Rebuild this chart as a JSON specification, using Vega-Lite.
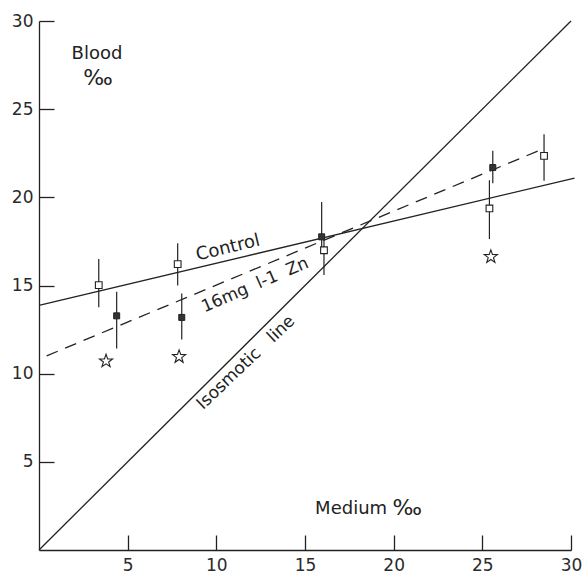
{
  "$schema": "https://vega.github.io/schema/vega-lite/v6.json",
  "width": 532,
  "height": 529,
  "autosize": {"type": "none"},
  "padding": {"left": 39, "top": 21, "right": 13, "bottom": 24},
  "background": "white",
  "config": {"view": {"stroke": null}, "font": "DejaVu Sans"},
  "datasets": {
    "lines": [
      {"line": "iso", "x": 0, "y": 0},
      {"line": "iso", "x": 30, "y": 30},
      {"line": "control", "x": 0.06, "y": 13.89},
      {"line": "control", "x": 30.2, "y": 21.09},
      {"line": "zn", "x": 0.43, "y": 11.01},
      {"line": "zn", "x": 28.26, "y": 22.68}
    ],
    "bars": [
      {"group": "control", "x": 3.37, "y": 13.76, "y2": 16.5},
      {"group": "control", "x": 7.82, "y": 15.0, "y2": 17.4},
      {"group": "control", "x": 16.07, "y": 15.6, "y2": 17.76},
      {"group": "control", "x": 25.4, "y": 17.63, "y2": 20.97},
      {"group": "control", "x": 28.48, "y": 20.94, "y2": 23.58},
      {"group": "zn", "x": 4.38, "y": 11.43, "y2": 14.64},
      {"group": "zn", "x": 8.05, "y": 11.94, "y2": 14.55},
      {"group": "zn", "x": 15.94, "y": 17.0, "y2": 19.74},
      {"group": "zn", "x": 25.59, "y": 20.8, "y2": 22.64}
    ],
    "points": [
      {"group": "control", "x": 3.37, "y": 15.02},
      {"group": "control", "x": 7.82, "y": 16.21},
      {"group": "control", "x": 16.07, "y": 17.0},
      {"group": "control", "x": 25.4, "y": 19.37},
      {"group": "control", "x": 28.48, "y": 22.35},
      {"group": "zn", "x": 4.38, "y": 13.28},
      {"group": "zn", "x": 8.05, "y": 13.19},
      {"group": "zn", "x": 15.94, "y": 17.76},
      {"group": "zn", "x": 25.59, "y": 21.69},
      {"group": "star", "x": 3.78, "y": 10.71},
      {"group": "star", "x": 7.9, "y": 10.96},
      {"group": "star", "x": 25.48, "y": 16.63}
    ],
    "labels": [
      {"name": "control", "x": 10.66, "y": 17.12, "text": "Control"},
      {"name": "zn", "x": 12.18, "y": 15.02, "text": "16mg\u00a0\u00a0l-1\u00a0\u00a0Zn"},
      {"name": "iso", "x": 11.67, "y": 10.63, "text": "Isosmotic\u00a0\u00a0\u00a0line"},
      {"name": "plain", "x": 3.27, "y": 28.15, "text": "Blood"},
      {"name": "plain", "x": 17.6, "y": 2.32, "text": "Medium"},
      {"name": "permil", "x": 3.33, "y": 26.75, "text": "‰"},
      {"name": "permil", "x": 20.76, "y": 2.38, "text": "‰"}
    ]
  },
  "encoding": {
    "x": {
      "field": "x", "type": "quantitative",
      "scale": {"domain": [0, 30], "nice": false},
      "axis": {"values": [5, 10, 15, 20, 25, 30], "tickSize": -15, "labelPadding": 22, "grid": false, "title": null,
        "domainColor": "#222", "tickColor": "#222", "domainWidth": 1.3, "tickWidth": 1.3,
        "labelFontSize": 17, "labelColor": "#2a2a2a", "labelFont": "DejaVu Sans", "labelFlush": false}
    },
    "y": {
      "field": "y", "type": "quantitative",
      "scale": {"domain": [0, 30], "nice": false},
      "axis": {"values": [5, 10, 15, 20, 25, 30], "tickSize": -15, "labelPadding": 21, "grid": false, "title": null,
        "domainColor": "#222", "tickColor": "#222", "domainWidth": 1.3, "tickWidth": 1.3,
        "labelFontSize": 17, "labelColor": "#2a2a2a", "labelFont": "DejaVu Sans", "labelFlush": false}
    }
  },
  "layer": [
    {
      "data": {"name": "lines"},
      "transform": [{"filter": "datum.line !== 'zn'"}],
      "mark": {"type": "line", "color": "#222", "strokeWidth": 1.3, "clip": false},
      "encoding": {"detail": {"field": "line"}}
    },
    {
      "data": {"name": "lines"},
      "transform": [{"filter": "datum.line === 'zn'"}],
      "mark": {"type": "line", "color": "#222", "strokeWidth": 1.3, "strokeDash": [12, 8], "clip": false},
      "encoding": {}
    },
    {
      "data": {"name": "bars"},
      "mark": {"type": "rule", "color": "#222", "strokeWidth": 1.2},
      "encoding": {"y2": {"field": "y2"}}
    },
    {
      "data": {"name": "points"},
      "transform": [{"filter": "datum.group === 'control'"}],
      "mark": {"type": "point", "shape": "square", "size": 45, "filled": true, "fill": "white", "stroke": "#222", "strokeWidth": 1.1, "opacity": 1}
    },
    {
      "data": {"name": "points"},
      "transform": [{"filter": "datum.group === 'zn'"}],
      "mark": {"type": "point", "shape": "square", "size": 36, "filled": true, "fill": "#333", "stroke": "#222", "strokeWidth": 1, "opacity": 1}
    },
    {
      "data": {"name": "points"},
      "transform": [{"filter": "datum.group === 'star'"}],
      "mark": {"type": "point", "shape": "M0,-1L0.235,-0.324L0.951,-0.309L0.38,0.124L0.588,0.809L0,0.4L-0.588,0.809L-0.38,0.124L-0.951,-0.309L-0.235,-0.324Z", "size": 190, "filled": true, "fill": "white", "stroke": "#222", "strokeWidth": 1.1, "opacity": 1}
    },
    {
      "data": {"name": "labels"},
      "transform": [{"filter": "datum.name === 'control'"}],
      "mark": {"type": "text", "angle": -13.5, "fontSize": 18, "color": "#222", "align": "center", "baseline": "middle"},
      "encoding": {"text": {"field": "text"}}
    },
    {
      "data": {"name": "labels"},
      "transform": [{"filter": "datum.name === 'zn'"}],
      "mark": {"type": "text", "angle": -23.5, "fontSize": 17, "color": "#222", "align": "center", "baseline": "middle"},
      "encoding": {"text": {"field": "text"}}
    },
    {
      "data": {"name": "labels"},
      "transform": [{"filter": "datum.name === 'iso'"}],
      "mark": {"type": "text", "angle": -43.5, "fontSize": 17, "color": "#222", "align": "center", "baseline": "middle"},
      "encoding": {"text": {"field": "text"}}
    },
    {
      "data": {"name": "labels"},
      "transform": [{"filter": "datum.name === 'plain'"}],
      "mark": {"type": "text", "fontSize": 18, "color": "#222", "align": "center", "baseline": "middle"},
      "encoding": {"text": {"field": "text"}}
    },
    {
      "data": {"name": "labels"},
      "transform": [{"filter": "datum.name === 'permil'"}],
      "mark": {"type": "text", "fontSize": 22, "color": "#222", "align": "center", "baseline": "middle"},
      "encoding": {"text": {"field": "text"}}
    }
  ]
}
